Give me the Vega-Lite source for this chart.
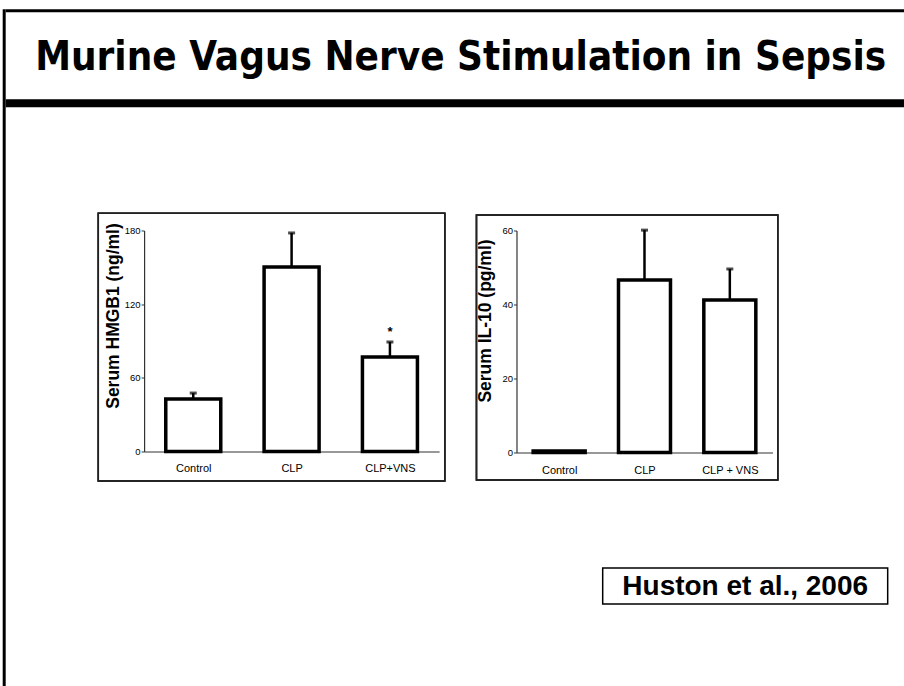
{
  "$schema": "https://vega.github.io/schema/vega-lite/v6.json",
  "padding": {"left": 2.7, "top": 9.3, "right": 0, "bottom": 0},
  "background": "white",
  "datasets": {
    "hmgb1": [
      {"group": "Control", "i": 0, "mean": 42.8, "err": 47.6, "sig": ""},
      {"group": "CLP", "i": 1, "mean": 150.3, "err": 178, "sig": ""},
      {"group": "CLP+VNS", "i": 2, "mean": 77, "err": 89.2, "sig": "*"}
    ],
    "il10": [
      {"group": "Control", "i": 0, "mean": 0.4, "err": 0.4},
      {"group": "CLP", "i": 1, "mean": 46.6, "err": 60.1},
      {"group": "CLP + VNS", "i": 2, "mean": 41.2, "err": 49.6}
    ],
    "title": [{"t": "Murine Vagus Nerve Stimulation in Sepsis"}],
    "cite": [{"t": "Huston et al., 2006"}],
    "empty": []
  },
  "config": {
    "font": "Liberation Sans",
    "view": {"stroke": null},
    "axis": {"grid": false, "labelColor": "black", "titleColor": "black", "domainColor": "#333", "tickColor": "#333"}
  },
  "bounds": "flush",
  "spacing": 0,
  "hconcat": [
    {
      "width": 3, "height": 690,
      "data": {"name": "empty"},
      "mark": "point",
      "view": {"fill": "black", "stroke": null}
    },
    {
      "bounds": "flush",
      "spacing": 221.2,
      "vconcat": [
        {
          "bounds": "flush",
          "spacing": 0,
          "vconcat": [
            {
              "width": 910, "height": 3,
              "data": {"name": "empty"},
              "mark": "point",
              "view": {"fill": "black", "stroke": null}
            },
            {
              "width": 910, "height": 86.7,
              "data": {"name": "title"},
              "mark": {"type": "text", "font": "DejaVu Sans Condensed", "fontWeight": "bold", "fontSize": 40, "baseline": "middle", "align": "center", "dx": 0, "dy": 2, "color": "black"},
              "encoding": {"text": {"field": "t"}}
            },
            {
              "width": 910, "height": 8,
              "data": {"name": "empty"},
              "mark": "point",
              "view": {"fill": "black", "stroke": null}
            }
          ]
        },
        {
          "bounds": "flush",
          "spacing": 337.5,
          "vconcat": [
            {
              "bounds": "flush",
              "spacing": 77.4,
              "hconcat": [
                {"width": 60.3, "height": 222, "data": {"name": "empty"}, "mark": "point"},
                {
                  "width": 295, "height": 221,
                  "data": {"name": "hmgb1"},
                  "encoding": {
                    "x": {"field": "i", "type": "quantitative", "scale": {"domain": [-0.5, 2.5], "nice": false, "zero": false, "padding": 0},
                      "axis": {"values": [0, 1, 2], "labelExpr": "['Control','CLP','CLP+VNS'][datum.value]", "ticks": false, "tickSize": 0, "labelPadding": 11, "labelFontSize": 11, "domainWidth": 1.2, "title": null, "labelFlush": false}}
                  },
                  "layer": [
                    {
                      "mark": {"type": "rect", "clip": false, "fill": null, "stroke": "#222", "strokeWidth": 1.5},
                      "encoding": {
                        "x": {"datum": -0.966}, "x2": {"datum": 2.558},
                        "y": {"datum": -24}, "y2": {"datum": 194}
                      }
                    },
                    {
                      "mark": {"type": "bar", "orient": "vertical", "size": 55, "fill": "white", "stroke": "black", "strokeWidth": 3.5},
                      "encoding": {
                        "y": {"field": "mean", "type": "quantitative", "scale": {"domain": [0, 180], "nice": false, "padding": 0},
                          "axis": {"values": [0, 60, 120, 180], "tickSize": 3, "labelPadding": 1, "labelFontSize": 9.5, "domainWidth": 1.2,
                            "title": "Serum HMGB1 (ng/ml)", "titleFontSize": 17.5, "titleFontWeight": "bold", "titleX": -22, "titleY": 85}}
                      }
                    },
                    {
                      "mark": {"type": "rule", "strokeWidth": 2.5, "color": "black"},
                      "encoding": {"y": {"field": "mean", "type": "quantitative"}, "y2": {"field": "err"}}
                    },
                    {
                      "mark": {"type": "tick", "orient": "horizontal", "size": 7, "thickness": 3, "color": "black"},
                      "encoding": {"y": {"field": "err", "type": "quantitative"}}
                    },
                    {
                      "mark": {"type": "text", "fontSize": 13, "fontWeight": "bold", "baseline": "alphabetic", "dy": -6, "color": "black"},
                      "encoding": {"y": {"field": "err", "type": "quantitative"}, "text": {"field": "sig"}}
                    }
                  ]
                },
                {
                  "width": 256, "height": 222,
                  "data": {"name": "il10"},
                  "encoding": {
                    "x": {"field": "i", "type": "quantitative", "scale": {"domain": [-0.5, 2.5], "nice": false, "zero": false, "padding": 0},
                      "axis": {"values": [0, 1, 2], "labelExpr": "['Control','CLP','CLP + VNS'][datum.value]", "ticks": false, "tickSize": 0, "labelPadding": 12, "labelFontSize": 11, "domainWidth": 1.2, "title": null, "labelFlush": false}}
                  },
                  "layer": [
                    {
                      "mark": {"type": "rect", "clip": false, "fill": null, "stroke": "#222", "strokeWidth": 1.5},
                      "encoding": {
                        "x": {"datum": -0.969}, "x2": {"datum": 2.562},
                        "y": {"datum": -7.43}, "y2": {"datum": 64.2}
                      }
                    },
                    {
                      "mark": {"type": "bar", "orient": "vertical", "size": 52, "fill": "white", "stroke": "black", "strokeWidth": 3.5},
                      "encoding": {
                        "y": {"field": "mean", "type": "quantitative", "scale": {"domain": [0, 60], "nice": false, "padding": 0},
                          "axis": {"values": [0, 20, 40, 60], "tickSize": 3, "labelPadding": 1, "labelFontSize": 9.5, "domainWidth": 1.2,
                            "title": "Serum IL-10 (pg/ml)", "titleFontSize": 17.5, "titleFontWeight": "bold", "titleX": -22, "titleY": 90}}
                      }
                    },
                    {
                      "transform": [{"filter": "datum.err > datum.mean"}],
                      "mark": {"type": "rule", "strokeWidth": 2.5, "color": "black"},
                      "encoding": {"y": {"field": "mean", "type": "quantitative"}, "y2": {"field": "err"}}
                    },
                    {
                      "transform": [{"filter": "datum.err > datum.mean"}],
                      "mark": {"type": "tick", "orient": "horizontal", "size": 7, "thickness": 3, "color": "black"},
                      "encoding": {"y": {"field": "err", "type": "quantitative"}}
                    }
                  ]
                }
              ]
            },
            {
              "bounds": "flush",
              "spacing": 10,
              "hconcat": [
                {"width": 586.3, "height": 36, "data": {"name": "empty"}, "mark": "point"},
                {
                  "width": 285, "height": 36,
                  "data": {"name": "cite"},
                  "view": {"stroke": "black", "strokeWidth": 1.5},
                  "mark": {"type": "text", "fontSize": 28, "fontWeight": "bold", "baseline": "middle", "align": "center", "dy": 1, "color": "black", "font": "Liberation Sans"},
                  "encoding": {"text": {"field": "t"}}
                }
              ]
            }
          ]
        }
      ]
    }
  ]
}
